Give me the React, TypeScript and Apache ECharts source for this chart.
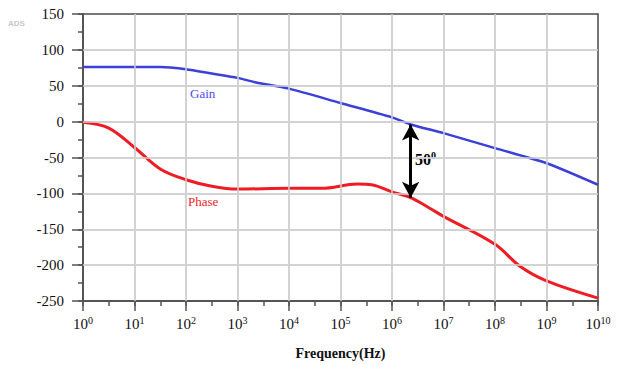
import React, { useEffect, useRef } from "react";
import * as echarts from "echarts";

// Frequencies in Hz
const gainFreq = [1, 3.16, 10, 31.6, 50, 100, 316, 1000, 2190, 1e4, 1e5, 1e6, 2.3e6, 1e7, 1e8, 1e9, 1e10];
const gainDb = [76, 76, 76, 76, 75.5, 73, 67, 61, 55, 46, 26, 6, -4, -16, -37, -58, -88];

const phaseFreq = [1, 3.16, 10, 31.6, 100, 316, 1000, 1e4, 4.3e4, 2.1e5, 4e5, 1e6, 2.3e6, 5.5e6, 1e7, 1e8, 3.1e8, 1e9, 1e10];
const phaseDeg = [-1, -9, -36, -66, -81, -90, -94, -93, -93, -87, -88, -98, -106, -121, -132, -171, -202, -222, -246];

const xTickExponents = [0, 1, 2, 3, 4, 5, 6, 7, 8, 9, 10];
const xGridFreq = [10, 100, 1000, 1e4, 1e5, 1e6, 1e7, 1e8, 1e9];
const yTicks = [-250, -200, -150, -100, -50, 0, 50, 100, 150];
const yGrid = [-200, -150, -100, -50, 0, 50, 100];

const arrowFreq = 2.3e6;
const arrowTop = -4;
const arrowBottom = -106;

const SERIF = "Liberation Serif";
const AXIS = "#555";
const GRID = "#d0d0d0";

export default function App() {
  const ref = useRef<HTMLDivElement>(null);
  useEffect(() => {
    if (!ref.current) return;
    const chart = echarts.init(ref.current, undefined, { renderer: "svg" });
    const gainData = gainFreq.map((f, i) => [f, gainDb[i]]);
    const phaseData = phaseFreq.map((f, i) => [f, phaseDeg[i]]);
    const yMin = yTicks[0];
    const yMax = yTicks[yTicks.length - 1];
    chart.setOption({
      animation: false,
      grid: { left: 83, right: 19, top: 14, bottom: 64 },
      xAxis: [
        {
          type: "log",
          logBase: 10,
          min: 1,
          max: 1e10,
          interval: 1,
          position: "bottom",
          name: "Frequency(Hz)",
          nameLocation: "middle",
          nameGap: 45,
          nameTextStyle: { fontFamily: SERIF, fontWeight: "bold", fontSize: 14, color: "#111" },
          axisLine: { show: true, onZero: false, lineStyle: { color: AXIS, width: 2 } },
          axisTick: { show: true, inside: false, length: 10, lineStyle: { color: AXIS, width: 1.5 } },
          splitLine: { show: true, lineStyle: { color: GRID, width: 1.5 } },
          axisLabel: {
            margin: 14,
            formatter: (v: number) => {
              const e = Math.round(Math.log10(v));
              const idx = xTickExponents.indexOf(e);
              return idx >= 0 ? `{b|10}{s|${xTickExponents[idx]}}` : "";
            },
            rich: {
              b: { fontFamily: SERIF, fontSize: 15, color: "#111", lineHeight: 18 },
              s: { fontFamily: SERIF, fontSize: 10, color: "#111", verticalAlign: "top", lineHeight: 18 },
            },
          },
        },
        {
          type: "log",
          logBase: 10,
          min: 1,
          max: 1e10,
          interval: 0.5,
          position: "bottom",
          axisLine: { show: false, onZero: false },
          axisTick: { show: true, inside: false, length: 5, lineStyle: { color: AXIS, width: 1.5 } },
          splitLine: { show: false },
          axisLabel: { show: false },
        },
        {
          type: "log",
          logBase: 10,
          min: 1,
          max: 1e10,
          position: "top",
          axisLine: { show: true, onZero: false, lineStyle: { color: AXIS, width: 1.5 } },
          axisTick: { show: false },
          splitLine: { show: false },
          axisLabel: { show: false },
        },
      ],
      yAxis: [
        {
          type: "value",
          min: yMin,
          max: yMax,
          interval: 50,
          position: "left",
          axisLine: { show: true, onZero: false, lineStyle: { color: AXIS, width: 2 } },
          axisTick: { show: true, inside: false, length: 11, lineStyle: { color: AXIS, width: 1.5 } },
          splitLine: { show: true, lineStyle: { color: GRID, width: 1.5 } },
          axisLabel: {
            margin: 19,
            fontFamily: SERIF,
            fontSize: 15,
            color: "#111",
            formatter: (v: number) => `{v|${v}}`,
            rich: { v: { fontFamily: SERIF, fontSize: 15, color: "#111" } },
          },
        },
        {
          type: "value",
          min: yMin,
          max: yMax,
          interval: 25,
          position: "left",
          axisLine: { show: false, onZero: false },
          axisTick: { show: true, inside: false, length: 5, lineStyle: { color: AXIS, width: 1.5 } },
          splitLine: { show: false },
          axisLabel: { show: false },
        },
        {
          type: "value",
          min: yMin,
          max: yMax,
          position: "right",
          axisLine: { show: true, onZero: false, lineStyle: { color: AXIS, width: 1.5 } },
          axisTick: { show: false },
          splitLine: { show: false },
          axisLabel: { show: false },
        },
      ],
      series: [
        {
          // grid lines drawn through the axes' scales (backup for split lines)
          type: "line",
          name: "grid",
          data: gainData,
          showSymbol: false,
          lineStyle: { opacity: 0 },
          silent: true,
          z: 1,
          markLine: {
            silent: true,
            symbol: ["none", "none"],
            lineStyle: { color: GRID, width: 1.5, type: "solid" },
            label: { show: false },
            data: [
              ...yGrid.map((y) => ({ yAxis: y })),
              ...xGridFreq.map((f) => ({ xAxis: f })),
            ],
          },
        },
        {
          type: "line",
          name: "Gain",
          data: gainData,
          showSymbol: false,
          smooth: 0.25,
          lineStyle: { color: "#3b40d6", width: 2.5 },
          itemStyle: { color: "#3b40d6" },
          silent: true,
          z: 3,
          markLine: {
            silent: true,
            symbol: ["arrow", "arrow"],
            symbolSize: [13, 16],
            lineStyle: { color: "#000", width: 3, type: "solid" },
            label: { show: false },
            data: [[{ coord: [arrowFreq, arrowTop] }, { coord: [arrowFreq, arrowBottom] }]],
          },
        },
        {
          type: "line",
          name: "Phase",
          data: phaseData,
          showSymbol: false,
          smooth: 0.35,
          lineStyle: { color: "#ee1c25", width: 3 },
          itemStyle: { color: "#ee1c25" },
          silent: true,
          z: 3,
        },
      ],
      graphic: [
        {
          type: "text",
          left: 8,
          top: 19,
          style: { text: "ADS", fontFamily: "Liberation Sans", fontSize: 8, fontWeight: "bold", fill: "#c8c8c8" },
        },
        {
          type: "text",
          left: 190,
          top: 87,
          style: { text: "Gain", fontFamily: SERIF, fontSize: 13, fill: "#4a4ee0" },
        },
        {
          type: "text",
          left: 188,
          top: 195,
          style: { text: "Phase", fontFamily: SERIF, fontSize: 13, fill: "#ee1c25" },
        },
        {
          type: "text",
          left: 415,
          top: 150,
          style: {
            text: "{b|50}{s|0}",
            rich: {
              b: { fontFamily: SERIF, fontSize: 16, fontWeight: "bold", fill: "#000", lineHeight: 18 },
              s: { fontFamily: SERIF, fontSize: 10, fontWeight: "bold", fill: "#000", verticalAlign: "top", lineHeight: 18 },
            },
          },
        },
      ],
    });
    return () => chart.dispose();
  }, []);
  return <div ref={ref} style={{ width: 617, height: 365, position: "absolute", left: 0, top: 0 }} />;
}
